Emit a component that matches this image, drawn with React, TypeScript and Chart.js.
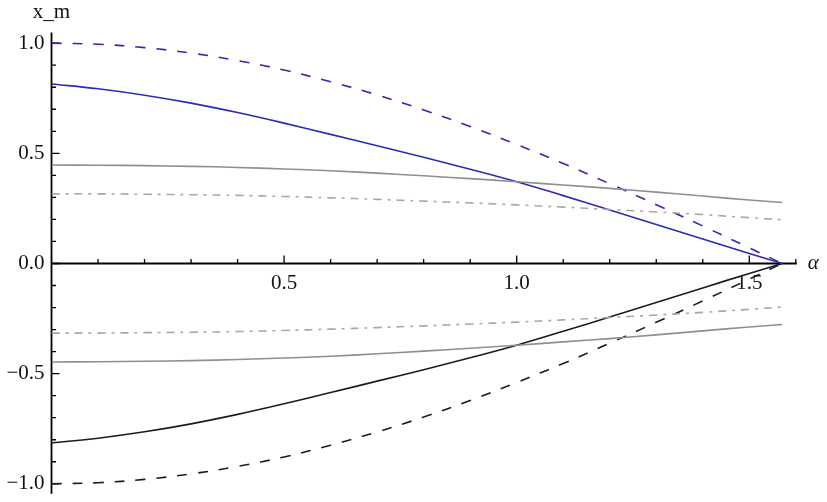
import React, { useEffect, useRef } from "react";
import { Chart, registerables } from "chart.js";

Chart.register(...registerables);

// α values (x axis)
const alpha = [0, 0.1, 0.2, 0.3, 0.4, 0.5, 0.6, 0.7, 0.8, 0.9, 1.0, 1.1, 1.2, 1.3, 1.4, 1.5, 1.5708];

// upper family (blue + gray)
const blueDashed = [1.0, 0.995, 0.98, 0.955, 0.921, 0.878, 0.825, 0.765, 0.697, 0.622, 0.54, 0.454, 0.362, 0.267, 0.17, 0.071, 0.0];
const blueSolid = [0.815, 0.793, 0.764, 0.728, 0.685, 0.637, 0.586, 0.534, 0.482, 0.428, 0.371, 0.308, 0.243, 0.177, 0.111, 0.045, 0.0];
const graySolidTop = [0.447, 0.446, 0.444, 0.441, 0.436, 0.429, 0.421, 0.41, 0.398, 0.385, 0.371, 0.356, 0.341, 0.324, 0.306, 0.288, 0.277];
const grayDashDotTop = [0.316, 0.316, 0.314, 0.312, 0.309, 0.304, 0.298, 0.291, 0.283, 0.275, 0.266, 0.256, 0.245, 0.234, 0.222, 0.208, 0.198];

// lower family (black + gray)
const blackDashed = [-1.0, -0.995, -0.98, -0.955, -0.921, -0.878, -0.825, -0.765, -0.697, -0.622, -0.54, -0.454, -0.362, -0.267, -0.17, -0.071, 0.0];
const blackSolid = [-0.815, -0.793, -0.764, -0.728, -0.685, -0.637, -0.586, -0.534, -0.482, -0.428, -0.371, -0.308, -0.243, -0.177, -0.111, -0.045, 0.0];
const graySolidBottom = [-0.447, -0.446, -0.444, -0.441, -0.436, -0.429, -0.421, -0.41, -0.398, -0.385, -0.371, -0.356, -0.341, -0.324, -0.306, -0.288, -0.277];
const grayDashDotBottom = [-0.316, -0.316, -0.314, -0.312, -0.309, -0.304, -0.298, -0.291, -0.283, -0.275, -0.266, -0.256, -0.245, -0.234, -0.222, -0.208, -0.198];

// ticks
const xMajorTicks = [0.5, 1.0, 1.5];
const xMajorLabels = ["0.5", "1.0", "1.5"];
const yMajorTicks = [-1.0, -0.5, 0.0, 0.5, 1.0];
const yMajorLabels = ["\u22121.0", "\u22120.5", "0.0", "0.5", "1.0"];
const xMinorTicks = [0.1, 0.2, 0.3, 0.4, 0.6, 0.7, 0.8, 0.9, 1.1, 1.2, 1.3, 1.4, 1.6];
const yMinorTicks = [-0.9, -0.8, -0.7, -0.6, -0.4, -0.3, -0.2, -0.1, 0.1, 0.2, 0.3, 0.4, 0.6, 0.7, 0.8, 0.9];

const xTitle = "\u03b1";
const yTitle = "x_m";

const FONT = '21px "Liberation Serif", "Times New Roman", serif';

const toPoints = (ys: number[]) => alpha.map((a, i) => ({ x: a, y: ys[i] }));

const axesPlugin = {
  id: "mmaAxes",
  beforeDatasetsDraw(chart: any) {
    const { ctx, scales } = chart;
    const xs = scales.x;
    const ys = scales.y;
    const x0 = xs.getPixelForValue(0);
    const y0 = ys.getPixelForValue(0);
    const xEnd = xs.getPixelForValue(1.6);
    ctx.save();
    ctx.strokeStyle = "#000";
    ctx.lineWidth = 1.8;
    ctx.beginPath();
    ctx.moveTo(x0, y0);
    ctx.lineTo(xEnd + 1, y0);
    ctx.moveTo(x0, ys.top);
    ctx.lineTo(x0, ys.bottom);
    ctx.stroke();

    ctx.lineWidth = 1.3;
    ctx.beginPath();
    xMajorTicks.forEach((v) => {
      const px = xs.getPixelForValue(v);
      ctx.moveTo(px, y0);
      ctx.lineTo(px, y0 - 8);
    });
    xMinorTicks.forEach((v) => {
      const px = xs.getPixelForValue(v);
      ctx.moveTo(px, y0);
      ctx.lineTo(px, y0 - 4.5);
    });
    yMajorTicks.forEach((v) => {
      const py = ys.getPixelForValue(v);
      ctx.moveTo(x0, py);
      ctx.lineTo(x0 + 8, py);
    });
    yMinorTicks.forEach((v) => {
      const py = ys.getPixelForValue(v);
      ctx.moveTo(x0, py);
      ctx.lineTo(x0 + 4.5, py);
    });
    ctx.stroke();

    ctx.fillStyle = "#111";
    ctx.font = FONT;
    ctx.textAlign = "center";
    ctx.textBaseline = "alphabetic";
    xMajorTicks.forEach((v, i) => {
      ctx.fillText(xMajorLabels[i], xs.getPixelForValue(v), y0 + 26);
    });
    ctx.textAlign = "right";
    ctx.textBaseline = "middle";
    yMajorTicks.forEach((v, i) => {
      ctx.fillText(yMajorLabels[i], x0 - 7, ys.getPixelForValue(v));
    });

    ctx.textAlign = "center";
    ctx.textBaseline = "alphabetic";
    ctx.fillText(yTitle, x0, 17.5);
    ctx.font = "italic " + FONT;
    ctx.textAlign = "left";
    ctx.fillText(xTitle, xEnd + 12, y0 + 6);
    ctx.restore();
  },
};

export default function App() {
  const canvasRef = useRef<HTMLCanvasElement | null>(null);

  useEffect(() => {
    const canvas = canvasRef.current;
    if (!canvas) return;
    const blue = "#2b2bb5";
    const black = "#1c1c1c";
    const gray = "#8f8f8f";
    const lightGray = "#a8a8a8";
    const dash = [10, 11];
    const dashDot = [8, 6, 3, 6];
    const mk = (data: number[], color: string, borderDash: number[]) => ({
      data: toPoints(data),
      borderColor: color,
      backgroundColor: color,
      borderWidth: 1.6,
      borderDash,
      pointRadius: 0,
      fill: false,
      tension: 0.4,
    });
    const chart = new Chart(canvas, {
      type: "line",
      data: {
        datasets: [
          mk(grayDashDotTop, lightGray, dashDot),
          mk(graySolidTop, gray, []),
          mk(grayDashDotBottom, lightGray, dashDot),
          mk(graySolidBottom, gray, []),
          mk(blueDashed, blue, dash),
          mk(blueSolid, blue, []),
          mk(blackDashed, black, dash),
          mk(blackSolid, black, []),
        ],
      },
      options: {
        animation: false,
        responsive: false,
        devicePixelRatio: 1,
        layout: { padding: { left: 51.5, right: 31.2, top: 32.6, bottom: 8.3 } },
        plugins: { legend: { display: false }, tooltip: { enabled: false } },
        events: [],
        scales: {
          x: { type: "linear", min: 0, max: 1.6, display: false },
          y: { type: "linear", min: -1.045, max: 1.048, display: false },
        },
      },
      plugins: [axesPlugin],
    });
    return () => chart.destroy();
  }, []);

  return (
    <div style={{ position: "fixed", left: 0, top: 0, width: 827, height: 502, background: "#fff" }}>
      <canvas ref={canvasRef} width={827} height={502} style={{ display: "block" }} />
    </div>
  );
}
